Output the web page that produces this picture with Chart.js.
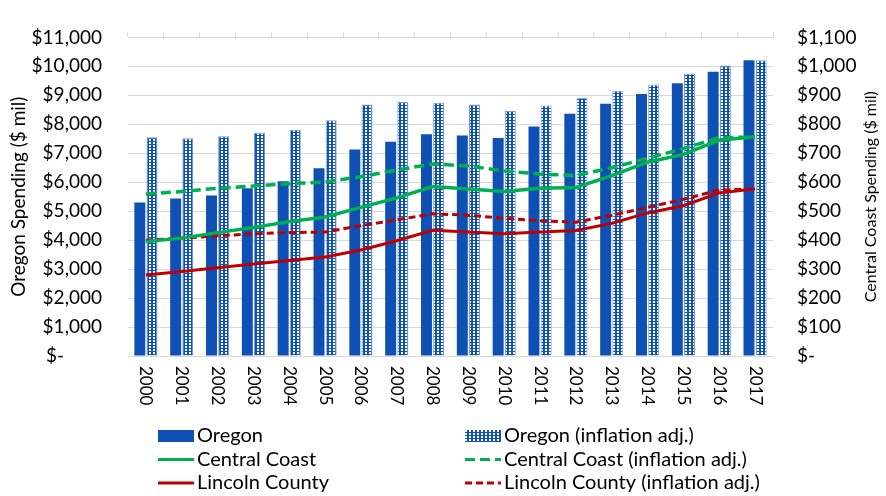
<!DOCTYPE html>
<html>
<head>
<meta charset="utf-8">
<script src="https://cdn.jsdelivr.net/npm/chart.js@4"></script>
<style>
  html, body { margin: 0; padding: 0; background: #fff; }
</style>
</head>
<body>
<canvas id="chart" width="886" height="496"></canvas>
<script>
// --- data (left axis: Oregon, $ mil; right axis: Central Coast / Lincoln, $ mil) ---
const years = ['2000', '2001', '2002', '2003', '2004', '2005', '2006', '2007', '2008',
               '2009', '2010', '2011', '2012', '2013', '2014', '2015', '2016', '2017'];
const oregon = [5300, 5440, 5540, 5790, 6030, 6480, 7130, 7400, 7660,
                7610, 7530, 7920, 8360, 8710, 9050, 9420, 9810, 10210];
const oregonAdj = [7550, 7520, 7590, 7710, 7810, 8140, 8680, 8770, 8740,
                   8680, 8460, 8650, 8920, 9160, 9370, 9750, 10030, 10210];
const centralCoast = [395, 407, 426, 444, 464, 480, 513, 546, 585,
                      577, 568, 579, 582, 623, 669, 696, 745, 757];
const centralCoastAdj = [559, 568, 579, 587, 595, 601, 619, 642, 663,
                         656, 639, 628, 623, 650, 683, 716, 754, 756];
const lincoln = [280, 292, 305, 318, 330, 342, 366, 398, 434,
                 428, 422, 428, 433, 458, 494, 519, 563, 577];
const lincolnAdj = [400, 407, 415, 422, 426, 428, 450, 470, 491,
                    486, 475, 467, 462, 486, 513, 541, 573, 577];
const leftMax = 11000, leftStep = 1000;
const rightMax = 1100, rightStep = 100;

const BLUE = '#0e50b4';
const GREEN = '#00b050';
const RED = '#c00000';
const GRID = '#d9d9d9';
const FONT = 'Lato';

Chart.defaults.font.family = FONT;
Chart.defaults.color = '#000';

// small white-dot grid for the inflation adjusted bars
function dotPattern() {
    const c = document.createElement('canvas');
    c.width = 4; c.height = 3;
    const g = c.getContext('2d');
    g.fillStyle = BLUE;
    g.fillRect(0, 0, 4, 3);
    g.fillStyle = '#fff';
    g.fillRect(1, 1, 2, 2);
    return g.createPattern(c, 'repeat');
}

const money = v => v === 0 ? '$-' : '$' + v.toLocaleString('en-US');

// x labels (read top to bottom), right title (bottom to top), two-column legend
const extras = {
    id: 'extras',
    afterDraw(chart) {
        const ctx = chart.ctx;
        const xs = chart.scales.x;
        const area = chart.chartArea;
        ctx.save();
        ctx.fillStyle = '#000';

        ctx.font = '17px ' + FONT;
        ctx.textAlign = 'left';
        ctx.textBaseline = 'middle';
        years.forEach((y, i) => {
            ctx.save();
            ctx.translate(xs.getPixelForValue(i), 366);
            ctx.rotate(Math.PI / 2);
            ctx.fillText(y, 0, 0);
            ctx.restore();
        });

        ctx.save();
        ctx.translate(871, (area.top + area.bottom) / 2);
        ctx.rotate(-Math.PI / 2);
        ctx.textAlign = 'center';
        ctx.font = '16px ' + FONT;
        ctx.fillText('Central Coast Spending ($ mil)', 0, 0);
        ctx.restore();

        ctx.font = '20px ' + FONT;
        chart.data.datasets.forEach((ds, i) => {
            const sx = i % 2 === 0 ? 158 : 465;
            const ry = 436 + Math.floor(i / 2) * 23.5;
            if (ds.type === 'line') {
                ctx.save();
                ctx.strokeStyle = ds.borderColor;
                ctx.lineWidth = 3;
                ctx.setLineDash(ds.borderDash || []);
                ctx.beginPath();
                ctx.moveTo(sx, ry);
                ctx.lineTo(sx + 36, ry);
                ctx.stroke();
                ctx.restore();
            } else {
                ctx.fillStyle = ds.backgroundColor;
                ctx.fillRect(sx, ry - 6, 36, 12);
            }
            ctx.fillStyle = '#000';
            ctx.fillText(ds.label, sx + 39, ry);
        });
        ctx.restore();
    }
};

const ctx = document.getElementById('chart').getContext('2d');
new Chart(ctx, {
    type: 'bar',
    data: {
        labels: years,
        datasets: [
            {
                label: 'Oregon',
                data: oregon,
                backgroundColor: BLUE,
                yAxisID: 'y',
                order: 2
            },
            {
                label: 'Oregon (inflation adj.)',
                data: oregonAdj,
                backgroundColor: dotPattern(),
                borderColor: '#6f97d8',
                borderWidth: 1,
                yAxisID: 'y',
                order: 2
            },
            {
                type: 'line',
                label: 'Central Coast',
                data: centralCoast,
                borderColor: GREEN,
                borderWidth: 3.5,
                pointRadius: 0,
                tension: 0,
                yAxisID: 'y2',
                order: 0
            },
            {
                type: 'line',
                label: 'Central Coast (inflation adj.)',
                data: centralCoastAdj,
                borderColor: GREEN,
                borderWidth: 3.5,
                borderDash: [10, 5],
                pointRadius: 0,
                tension: 0,
                yAxisID: 'y2',
                order: 0
            },
            {
                type: 'line',
                label: 'Lincoln County',
                data: lincoln,
                borderColor: RED,
                borderWidth: 3,
                pointRadius: 0,
                tension: 0,
                yAxisID: 'y2',
                order: 0
            },
            {
                type: 'line',
                label: 'Lincoln County (inflation adj.)',
                data: lincolnAdj,
                borderColor: RED,
                borderWidth: 3,
                borderDash: [7, 4],
                pointRadius: 0,
                tension: 0,
                yAxisID: 'y2',
                order: 0
            }
        ]
    },
    options: {
        responsive: false,
        animation: false,
        categoryPercentage: 0.68,
        barPercentage: 0.9,
        layout: { padding: 0 },
        plugins: {
            legend: { display: false },
            tooltip: { enabled: false }
        },
        scales: {
            x: {
                position: 'bottom',
                offset: true,
                grid: { drawOnChartArea: false, drawTicks: false },
                border: { color: GRID },
                ticks: { display: false },
                afterFit: s => { s.height = 140; }
            },
            x2: {
                type: 'category',
                position: 'top',
                offset: true,
                grid: { offset: true, drawOnChartArea: false, tickLength: 5, color: GRID },
                border: { color: GRID },
                ticks: { display: false },
                afterFit: s => { s.height = 21; }
            },
            y: {
                position: 'left',
                min: 0,
                max: leftMax,
                grid: { color: GRID, drawTicks: false },
                border: { display: false },
                ticks: {
                    stepSize: leftStep,
                    padding: 26,
                    font: { size: 19 },
                    callback: v => v === 0 ? '$-\u2002\u2002\u2002\u2002' : money(v)
                },
                title: {
                    display: true,
                    text: 'Oregon Spending ($ mil)',
                    font: { size: 19 },
                    padding: { top: 7, bottom: 0 }
                },
                afterFit: s => { s.width = 128; }
            },
            y2: {
                position: 'right',
                min: 0,
                max: rightMax,
                grid: { drawOnChartArea: false, drawTicks: false },
                border: { display: false },
                ticks: {
                    stepSize: rightStep,
                    padding: 24,
                    font: { size: 19 },
                    callback: money
                },
                afterFit: s => { s.width = 113; }
            }
        }
    },
    plugins: [extras]
});
</script>
</body>
</html>
